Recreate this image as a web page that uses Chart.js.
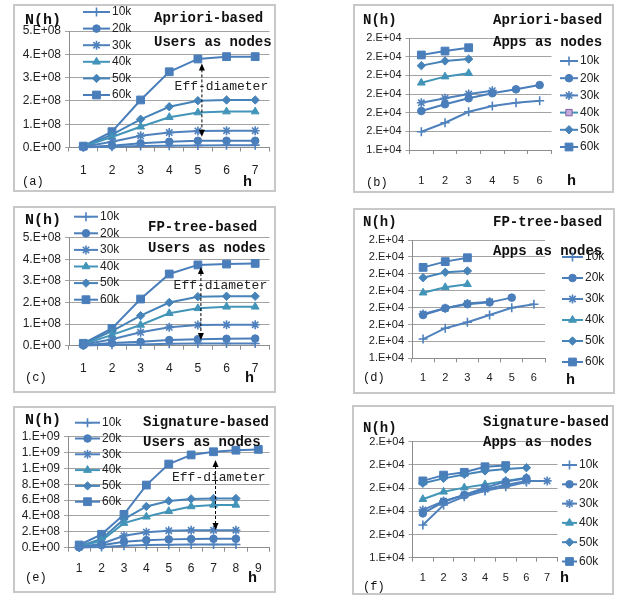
<!DOCTYPE html>
<html>
<head>
<meta charset="utf-8">
<script src="https://cdn.jsdelivr.net/npm/chart.js@4.4.1/dist/chart.umd.min.js"></script>
<style>
body { margin:0; background:#fff; width:625px; height:596px; position:relative; overflow:hidden; }
canvas { position:absolute; }
.frame { position:absolute; border:2px solid #c8c8c8; box-sizing:border-box; pointer-events:none; }
</style>
</head>
<body>
<script>
// series names and x categories (h)
var sizes = ["10k", "20k", "30k", "40k", "50k", "60k"];
var h6 = ["1", "2", "3", "4", "5", "6"];
var h7 = ["1", "2", "3", "4", "5", "6", "7"];
var h9 = ["1", "2", "3", "4", "5", "6", "7", "8", "9"];

// tick labels as printed on the y axes
var ticksUsers = ["0.E+00", "1.E+08", "2.E+08", "3.E+08", "4.E+08", "5.E+08"];
var ticksSig = ["0.E+00", "2.E+08", "4.E+08", "6.E+08", "8.E+08", "1.E+09", "1.E+09", "1.E+09"];
var ticksAppsB = ["1.E+04", "2.E+04", "2.E+04", "2.E+04", "2.E+04", "2.E+04", "2.E+04"];
var ticksAppsD = ["1.E+04", "2.E+04", "2.E+04", "2.E+04", "2.E+04", "2.E+04", "2.E+04", "2.E+04"];
var ticksAppsF = ["1.E+04", "2.E+04", "2.E+04", "2.E+04", "2.E+04", "2.E+04"];

// (a) Apriori-based, users as nodes  (rows: 10k..60k)
var apriUsers = [
  [0.01e8, 0.03e8, 0.06e8, 0.08e8, 0.09e8, 0.10e8, 0.10e8],
  [0.02e8, 0.08e8, 0.18e8, 0.25e8, 0.29e8, 0.29e8, 0.29e8],
  [0.03e8, 0.25e8, 0.50e8, 0.64e8, 0.71e8, 0.72e8, 0.72e8],
  [0.04e8, 0.45e8, 0.89e8, 1.30e8, 1.50e8, 1.54e8, 1.54e8],
  [0.05e8, 0.55e8, 1.21e8, 1.75e8, 2.01e8, 2.04e8, 2.04e8],
  [0.06e8, 0.68e8, 2.04e8, 3.25e8, 3.80e8, 3.90e8, 3.90e8]
];
// (b) Apriori-based, apps as nodes
var apriApps = [
  [14990, 15230, 15525, 15680, 15765, 15820],
  [15545, 15725, 15885, 16020, 16125, 16240],
  [15765, 15885, 16000, 16090],
  [16300, 16465, 16555],
  [16760, 16885, 16935],
  [17045, 17150, 17240]
];
// (c) FP-tree-based, users as nodes
var fpUsers = [
  [0.01e8, 0.04e8, 0.06e8, 0.09e8, 0.10e8, 0.10e8, 0.10e8],
  [0.02e8, 0.12e8, 0.18e8, 0.26e8, 0.30e8, 0.32e8, 0.33e8],
  [0.04e8, 0.30e8, 0.62e8, 0.85e8, 0.96e8, 0.97e8, 0.97e8],
  [0.06e8, 0.50e8, 0.96e8, 1.50e8, 1.73e8, 1.80e8, 1.80e8],
  [0.08e8, 0.68e8, 1.39e8, 2.00e8, 2.27e8, 2.29e8, 2.29e8],
  [0.11e8, 0.80e8, 2.16e8, 3.32e8, 3.74e8, 3.78e8, 3.81e8]
];
// (d) FP-tree-based, apps as nodes
var fpApps = [
  [15070, 15390, 15565, 15780, 15995, 16100],
  [15780, 15980, 16100, 16155, 16295],
  [15810, 15980, 16125, 16175],
  [16440, 16600, 16690],
  [16885, 17045, 17085],
  [17190, 17360, 17475]
];
// (e) Signature-based, users as nodes
var sigUsers = [
  [0.02e8, 0.10e8, 0.25e8, 0.35e8, 0.38e8, 0.40e8, 0.40e8, 0.40e8],
  [0.05e8, 0.30e8, 0.75e8, 0.95e8, 1.05e8, 1.10e8, 1.12e8, 1.12e8],
  [0.10e8, 0.50e8, 1.50e8, 1.95e8, 2.15e8, 2.20e8, 2.20e8, 2.20e8],
  [0.15e8, 0.90e8, 3.10e8, 3.90e8, 4.60e8, 5.20e8, 5.40e8, 5.40e8],
  [0.20e8, 1.10e8, 3.60e8, 5.20e8, 5.90e8, 6.15e8, 6.20e8, 6.20e8],
  [0.34e8, 1.69e8, 4.20e8, 7.90e8, 10.55e8, 11.70e8, 12.10e8, 12.30e8, 12.40e8]
];
// (f) Signature-based, apps as nodes
var sigApps = [
  [15205, 15635, 15815, 15940, 16030, 16130],
  [15455, 15705, 15850, 16010, 16140, 16210],
  [15530, 15720, 15850, 15975, 16065, 16155, 16155],
  [15760, 15920, 16010, 16080, 16155, 16225],
  [16105, 16210, 16295, 16370, 16410, 16440],
  [16155, 16280, 16340, 16460, 16485]
];

// look of the series
var lineColors = ["#4f81bd", "#4a7ebb", "#4f81bd", "#4295b8", "#4683b8", "#4a7ebb"];
var markers = ["cross", "circle", "star", "triangle", "rectRot", "rect"];
var markerSize = [4.5, 3.8, 4.5, 4.5, 4.2, 5.5];

var MONO = "'Liberation Mono', 'DejaVu Sans Mono', monospace";
var SANS = "'Liberation Sans', Arial, sans-serif";

// decorations: texts, in-plot legend, eff-diameter arrow
var decor = {
  id: "decor",
  afterDraw: function (chart, args, o) {
    var ctx = chart.ctx;
    ctx.save();
    ctx.textBaseline = "middle";
    ctx.textAlign = "left";

    if (o.arrow) {
      var A = o.arrow;
      var x = chart.scales.x.getPixelForValue(A.h) + A.dx;
      var y1 = chart.scales.y.getPixelForValue(A.top);
      var y2 = chart.scales.y.getPixelForValue(A.bottom);
      ctx.strokeStyle = "#000";
      ctx.fillStyle = "#000";
      ctx.lineWidth = 1;
      ctx.setLineDash([3, 2]);
      ctx.beginPath();
      ctx.moveTo(x, y1 + 6);
      ctx.lineTo(x, y2 - 6);
      ctx.stroke();
      ctx.setLineDash([]);
      ctx.beginPath();
      ctx.moveTo(x, y1); ctx.lineTo(x - 3, y1 + 7); ctx.lineTo(x + 3, y1 + 7);
      ctx.closePath(); ctx.fill();
      ctx.beginPath();
      ctx.moveTo(x, y2); ctx.lineTo(x - 3, y2 - 7); ctx.lineTo(x + 3, y2 - 7);
      ctx.closePath(); ctx.fill();

      ctx.font = "13px " + MONO;
      ctx.fillStyle = "#222";
      var tx;
      if (A.textX != null) {
        tx = A.textX - o.bx;
      } else {
        tx = x - ctx.measureText("Eff").width - ctx.measureText("-").width / 2;
      }
      ctx.fillText("Eff-diameter", tx, A.textY - o.by);
    }

    ctx.translate(-o.bx, -o.by);

    o.texts.forEach(function (t) {
      ctx.font = t.f;
      ctx.fillStyle = "#111";
      ctx.fillText(t.s, t.x, t.y);
    });

    var L = o.legend;
    chart.data.datasets.forEach(function (ds, i) {
      var y = L.y + i * L.dy;
      ctx.strokeStyle = ds.borderColor;
      ctx.lineWidth = 2;
      ctx.beginPath();
      ctx.moveTo(L.x0, y);
      ctx.lineTo(L.x1, y);
      ctx.stroke();
      var m = (L.marks && L.marks[i]) || {};
      ctx.fillStyle = m.fill || ds.pointBackgroundColor;
      ctx.strokeStyle = m.stroke || ds.borderColor;
      ctx.lineWidth = ds.pointBorderWidth;
      Chart.helpers.drawPoint(ctx, {
        pointStyle: m.style || ds.pointStyle,
        radius: ds.pointRadius,
        borderWidth: ds.pointBorderWidth,
        rotation: 0
      }, (L.x0 + L.x1) / 2, y);
      ctx.font = "12px " + SANS;
      ctx.fillStyle = "#222";
      ctx.fillText(ds.label, L.tx, y);
    });
    ctx.restore();
  }
};

function makePanel(p) {
  var bx = p.box[0], by = p.box[1], bw = p.box[2], bh = p.box[3];
  var cv = document.createElement("canvas");
  cv.width = bw; cv.height = bh;
  cv.style.left = bx + "px"; cv.style.top = by + "px";
  document.body.appendChild(cv);
  var fr = document.createElement("div");
  fr.className = "frame";
  fr.style.left = bx + "px"; fr.style.top = by + "px";
  fr.style.width = bw + "px"; fr.style.height = bh + "px";
  document.body.appendChild(fr);

  var sets = p.series.map(function (vals, i) {
    var thin = markers[i] === "cross" || markers[i] === "star";
    return {
      label: sizes[i],
      data: vals,
      borderColor: lineColors[i],
      backgroundColor: lineColors[i],
      pointBackgroundColor: lineColors[i],
      pointBorderColor: lineColors[i],
      pointStyle: markers[i],
      pointRadius: markerSize[i],
      pointBorderWidth: thin ? 1.6 : 1,
      borderWidth: 2,
      tension: 0,
      fill: false,
      clip: false
    };
  });

  var tickPad = p.xLabelY - p.area[3] - 4 - 0.55 * p.font;

  new Chart(cv, {
    type: "line",
    data: { labels: p.labels, datasets: sets },
    options: {
      responsive: false,
      animation: false,
      layout: { padding: { left: 0, top: p.area[1] - by, right: bx + bw - p.area[2], bottom: 0 } },
      scales: {
        x: {
          type: "category",
          offset: true,
          grid: { offset: true, drawOnChartArea: false, drawTicks: true, tickLength: 4, color: "#8c8c8c" },
          border: { display: true, color: "#8c8c8c", width: 1 },
          ticks: { autoSkip: false, maxRotation: 0, padding: tickPad, color: "#222", font: { family: SANS, size: p.font } },
          afterFit: function (s) { s.height = by + bh - p.area[3]; }
        },
        y: {
          min: p.y.min, max: p.y.max,
          grid: { color: "#a3a3a3", tickLength: 4 },
          border: { display: true, color: "#8c8c8c", width: 1 },
          ticks: {
            stepSize: p.y.step, autoSkip: false, padding: 4, color: "#222",
            font: { family: SANS, size: p.font },
            callback: function (v, i) { return p.y.labels[i]; }
          },
          afterFit: function (s) { s.width = p.area[0] - bx; }
        }
      },
      plugins: {
        legend: { display: false },
        tooltip: { enabled: false },
        decor: { bx: bx, by: by, texts: p.texts, legend: p.legend, arrow: p.arrow }
      }
    },
    plugins: [decor]
  });
}

function txt(s, x, y, f) { return { s: s, x: x, y: y, f: f }; }
var NH = "bold 15px " + MONO, NH2 = "bold 14px " + MONO, TT = "bold 14px " + MONO, TAG = "12px " + MONO;

makePanel({
  box: [13, 4, 263, 188], area: [69, 31, 270, 147.5], font: 12, xLabelY: 170,
  labels: h7, series: apriUsers,
  y: { min: 0, max: 5e8, step: 1e8, labels: ticksUsers },
  texts: [txt("N(h)", 25, 20, NH), txt("Apriori-based", 154, 18, TT), txt("Users as nodes", 154, 42, TT),
          txt("(a)", 22, 182, TAG), txt("h", 243, 182, NH)],
  legend: { x0: 83, x1: 110, tx: 112, y: 12, dy: 16.6 },
  arrow: { h: 4, top: 3.61e8, bottom: 0.46e8, dx: 4, textY: 87 }
});

makePanel({
  box: [353, 4, 261, 189], area: [409.5, 38, 551.5, 150], font: 11, xLabelY: 180,
  labels: h6, series: apriApps,
  y: { min: 14500, max: 17500, step: 500, labels: ticksAppsB },
  texts: [txt("N(h)", 363, 20, NH2), txt("Apriori-based", 493, 20, TT), txt("Apps as nodes", 493, 42, TT),
          txt("(b)", 366, 183, TAG), txt("h", 567, 181, NH)],
  legend: { x0: 560, x1: 578, tx: 580, y: 61, dy: 17.2,
            marks: { 3: { style: "rect", stroke: "#7f5fa0", fill: "#c2aadb" } } }
});

makePanel({
  box: [13, 206, 263, 187], area: [69, 237.7, 270, 345.7], font: 12, xLabelY: 368,
  labels: h7, series: fpUsers,
  y: { min: 0, max: 5e8, step: 1e8, labels: ticksUsers },
  texts: [txt("N(h)", 25, 220, NH), txt("FP-tree-based", 148, 227, TT), txt("Users as nodes", 148, 248, TT),
          txt("(c)", 25, 378, TAG), txt("h", 245, 378, NH)],
  legend: { x0: 74, x1: 98, tx: 100, y: 216.7, dy: 16.6 },
  arrow: { h: 4, top: 3.64e8, bottom: 0.26e8, dx: 3, textY: 285.7 }
});

makePanel({
  box: [353, 208, 262, 186], area: [412, 240, 545, 358.3], font: 11, xLabelY: 377.7,
  labels: h6, series: fpApps,
  y: { min: 14500, max: 18000, step: 500, labels: ticksAppsD },
  texts: [txt("N(h)", 363, 222, NH2), txt("FP-tree-based", 493, 222, TT), txt("Apps as nodes", 493, 251, TT),
          txt("(d)", 363, 378, TAG), txt("h", 566, 380, NH)],
  legend: { x0: 562, x1: 583, tx: 585, y: 257, dy: 21 }
});

makePanel({
  box: [13, 406, 263, 187], area: [68, 436.7, 270.5, 547.7], font: 12, xLabelY: 568,
  labels: h9, series: sigUsers,
  y: { min: 0, max: 1.4e9, step: 2e8, labels: ticksSig },
  texts: [txt("N(h)", 25, 420, NH), txt("Signature-based", 143, 422, TT), txt("Users as nodes", 143, 442, TT),
          txt("(e)", 25, 578, TAG), txt("h", 248, 578, NH)],
  legend: { x0: 75, x1: 100, tx: 102, y: 422.7, dy: 15.8 },
  arrow: { h: 6, top: 11.06e8, bottom: 2.23e8, dx: 2, textX: 172, textY: 478 }
});

makePanel({
  box: [352, 405, 262, 190], area: [412.5, 441.7, 557.5, 557.7], font: 11, xLabelY: 577.7,
  labels: h7, series: sigApps,
  y: { min: 14500, max: 17000, step: 500, labels: ticksAppsF },
  texts: [txt("N(h)", 363, 428, NH2), txt("Signature-based", 483, 422, TT), txt("Apps as nodes", 483, 442, TT),
          txt("(f)", 363, 587, TAG), txt("h", 560, 578, NH)],
  legend: { x0: 562, x1: 577, tx: 579, y: 465, dy: 19.3 }
});
</script>
</body>
</html>
